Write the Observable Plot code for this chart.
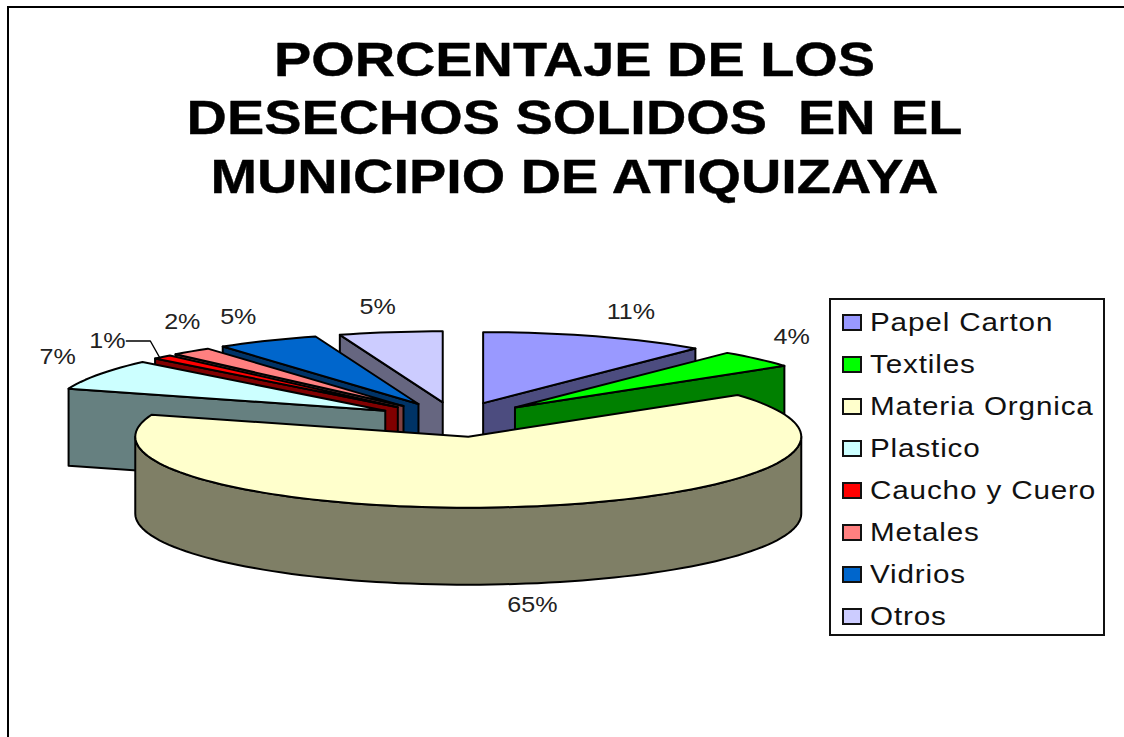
<!DOCTYPE html>
<html><head><meta charset="utf-8">
<script src="https://cdn.jsdelivr.net/npm/d3@7"></script>
<script src="https://cdn.jsdelivr.net/npm/@observablehq/plot@0.6"></script>
<style>
html,body{margin:0;padding:0;background:#fff;overflow:hidden}
#wrap{position:relative;width:1124px;height:737px;font-family:"Liberation Sans",Arial,sans-serif}
#frame{position:absolute;left:7px;top:6px;width:1200px;height:800px;border:2px solid #000}
#legend{position:absolute;left:829px;top:298px;width:272px;height:334px;border:2px solid #111;background:#fff;box-sizing:content-box}
.it{position:absolute;left:0;height:42px;width:100%;}
.sw{position:absolute;left:11px;top:13px;width:16px;height:13px;border:2px solid #111}
.lb{position:absolute;left:39px;top:5px;font-size:26px;line-height:32px;color:#111;white-space:nowrap;letter-spacing:.75px;transform:scaleX(1.14);transform-origin:left center}
svg{position:absolute;left:0;top:0;background:transparent}
</style></head><body>
<div id="wrap"><div id="frame"></div></div>
<script>
const titleText = "PORCENTAJE DE LOS\nDESECHOS SOLIDOS  EN EL\nMUNICIPIO DE ATIQUIZAYA";
const categories = ["Papel Carton","Textiles","Materia Orgnica","Plastico","Caucho y Cuero","Metales","Vidrios","Otros"];
const values = [11,4,65,7,1,2,5,5];
const colors = ["#9999FF","#00FF00","#FFFFCC","#CCFFFF","#FF0000","#FF8080","#0066CC","#CCCCFF"];
const wallColors = ["#4C4C7F","#008000","#7F7F66","#668080","#800000","#804040","#003366","#666680"];
const labelNudge = [[35,-24],[34,-22],[12,98],[-41,-18],[-55,-16],[-9,-29],[-29,-24],[-13,-25]];

// pie geometry in units of the pie radius
const explode = 0.245, depth = 77/71;
const rad = d => d*Math.PI/180;
const total = d3.sum(values);
let acc = -90;
const slices = values.map((v,i)=>{
  const a0 = acc, a1 = acc + v/total*360; acc = a1;
  const m = (a0+a1)/2;
  return {i, a0, a1, m, ax: explode*Math.cos(rad(m)), ay: explode*Math.sin(rad(m))};
});
const rim = (s,a,dz=0)=>({x:s.ax+Math.cos(rad(a)), y:s.ay+Math.sin(rad(a))+dz});
const arcPts = (s,a0,a1,dz=0)=>{const n=Math.max(2,Math.ceil(Math.abs(a1-a0)/2));return d3.range(n+1).map(k=>rim(s,a0+(a1-a0)*k/n,dz));};
const apex = (s,dz=0)=>({x:s.ax,y:s.ay+dz});
const closed = p=>[...p,p[0]];
const topFace = s=>closed([apex(s),...arcPts(s,s.a0,s.a1)]);
const cutWall = (s,a)=>closed([apex(s),rim(s,a),rim(s,a,depth),apex(s,depth)]);
const polys = [];
const paint = (pts,fill)=>polys.push(Plot.line(pts,{x:"x",y:"y",fill,stroke:"#000",strokeWidth:2,strokeLinejoin:"round"}));

// painter's order: back slices first, largest front slice last
for (const i of [7,6,5,4,3,0,1]) {
  const s = slices[i];
  const a = (i<=1) ? s.a1 : s.a0;
  paint(cutWall(s,a),wallColors[i]);
  paint(topFace(s),colors[i]);
}
const big = slices[2];
paint(closed([...arcPts(big,0,180),...arcPts(big,180,0,depth)]),wallColors[2]);
paint(topFace(big),colors[2]);

const labels = slices.map(s=>{
  const p = {x:(1+explode)*Math.cos(rad(s.m)), y:(1+explode)*Math.sin(rad(s.m))};
  return Plot.text([{...p,t:values[s.i]+"%"}],{x:"x",y:"y",text:"t",dx:labelNudge[s.i][0],dy:labelNudge[s.i][1],fontSize:22,fill:"#222"});
});
const cc = slices[4];
const leader = [{x:rim(cc,cc.m).x-36/333,y:rim(cc,cc.m).y-16/71},{x:rim(cc,cc.m).x-12/333,y:rim(cc,cc.m).y-16/71},{x:rim(cc,cc.m).x-3/333,y:rim(cc,cc.m).y}];

const chart = Plot.plot({
  width:1124,height:737,margin:0,
  x:{domain:[-1,1],range:[122,788],axis:null},
  y:{domain:[-1,1],range:[348,490],axis:null},
  style:{fontFamily:'"Liberation Sans",Arial,sans-serif',background:"transparent"},
  marks:[
    ...polys,
    Plot.line(leader,{x:"x",y:"y",stroke:"#000",strokeWidth:1.4}),
    ...labels,
    Plot.text([titleText],{frameAnchor:"top",dx:12,dy:34,fontSize:49,fontWeight:"bold",lineHeight:1.19,fill:"#000",stroke:"#000",strokeWidth:0.4})
  ]
});
// the reference's type is stretched horizontally
chart.querySelectorAll('g[aria-label="text"] text').forEach(t=>{
  t.setAttribute("transform",(t.getAttribute("transform")||"")+" scale(1.14,1)");
});
const wrap = document.getElementById("wrap");
wrap.appendChild(chart);
const lg = document.createElement("div"); lg.id="legend";
categories.forEach((t,i)=>{
  const it=document.createElement("div"); it.className="it"; it.style.top=(1+i*42)+"px";
  const sw=document.createElement("div"); sw.className="sw"; sw.style.background=colors[i];
  const lb=document.createElement("div"); lb.className="lb"; lb.textContent=t;
  it.append(sw,lb); lg.appendChild(it);
});
wrap.appendChild(lg);
</script></body></html>
